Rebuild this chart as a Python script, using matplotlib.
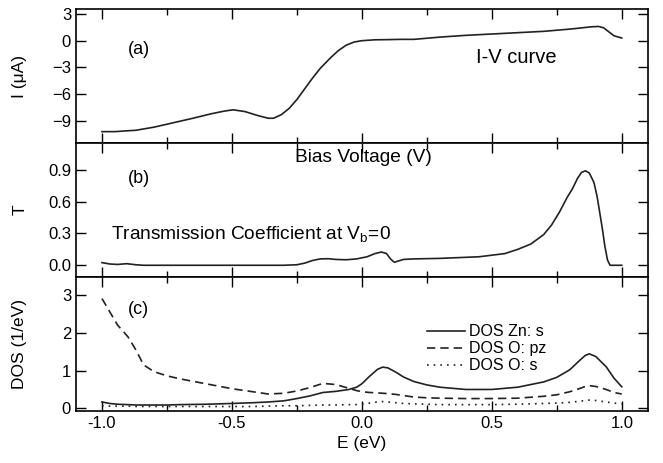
import numpy as np
import matplotlib.pyplot as plt
from matplotlib.ticker import MultipleLocator

plt.rcParams['font.family'] = ['Liberation Sans', 'DejaVu Sans']
plt.rcParams['font.size'] = 12
plt.rcParams['mathtext.fontset'] = 'custom'
plt.rcParams['mathtext.rm'] = 'Liberation Sans'

# (a) I-V curve
E_iv = [-1.0, -0.95, -0.9, -0.87, -0.8, -0.74, -0.65, -0.58, -0.53, -0.495, -0.45, -0.4, -0.36, -0.34,
        -0.31, -0.28, -0.25, -0.22, -0.19, -0.16, -0.12, -0.09, -0.06, -0.03, 0.0, 0.05, 0.1, 0.15,
        0.2, 0.3, 0.4, 0.5, 0.6, 0.7, 0.8, 0.85, 0.88, 0.91, 0.93, 0.95, 0.97, 1.0]
I_iv = [-10.2, -10.2, -10.1, -10.05, -9.7, -9.3, -8.7, -8.2, -7.9, -7.75, -7.95, -8.4, -8.7, -8.7,
        -8.3, -7.6, -6.6, -5.4, -4.2, -3.1, -1.9, -1.1, -0.5, -0.15, 0.0, 0.1, 0.12, 0.15,
        0.15, 0.4, 0.6, 0.75, 0.9, 1.05, 1.3, 1.45, 1.55, 1.6, 1.45, 1.0, 0.55, 0.3]

# (b) transmission at Vb = 0
E_t = [-1.0, -0.97, -0.94, -0.905, -0.87, -0.84, -0.8, -0.6, -0.4, -0.3, -0.25, -0.22, -0.19,
       -0.16, -0.13, -0.1, -0.06, -0.02, 0.02, 0.05, 0.075, 0.095, 0.11, 0.125, 0.14, 0.16, 0.2,
       0.3, 0.4, 0.45, 0.5, 0.55, 0.6, 0.65, 0.7, 0.73, 0.76, 0.79, 0.81, 0.83, 0.845, 0.86,
       0.875, 0.893, 0.905, 0.915, 0.925, 0.935, 0.945, 0.955, 1.0]
T_t = [0.025, 0.012, 0.008, 0.015, 0.005, 0.0, 0.0, 0.0, 0.0, 0.0, 0.005, 0.02, 0.045,
       0.06, 0.062, 0.055, 0.052, 0.06, 0.08, 0.11, 0.125, 0.11, 0.06, 0.028, 0.04, 0.055, 0.06,
       0.065, 0.075, 0.08, 0.095, 0.11, 0.15, 0.2, 0.29, 0.38, 0.5, 0.64, 0.72, 0.82, 0.875, 0.89,
       0.87, 0.78, 0.65, 0.5, 0.35, 0.18, 0.05, 0.0, 0.0]

# (c) density of states
E_dos = [-1.0, -0.97, -0.94, -0.9, -0.87, -0.84, -0.8, -0.75, -0.7, -0.6, -0.5, -0.42, -0.36,
         -0.3, -0.25, -0.2, -0.15, -0.1, -0.05, -0.02, 0.0, 0.03, 0.06, 0.08, 0.1, 0.13, 0.16,
         0.2, 0.25, 0.3, 0.4, 0.5, 0.6, 0.7, 0.75, 0.8, 0.84, 0.86, 0.875, 0.9, 0.94, 0.97, 1.0]
dos_zn_s = [0.17, 0.13, 0.11, 0.1, 0.09, 0.09, 0.09, 0.09, 0.1, 0.11, 0.13, 0.15, 0.17,
            0.2, 0.26, 0.33, 0.42, 0.45, 0.5, 0.56, 0.65, 0.85, 1.03, 1.09, 1.07, 0.96, 0.83,
            0.71, 0.62, 0.56, 0.5, 0.5, 0.56, 0.7, 0.82, 1.02, 1.28, 1.4, 1.44, 1.37, 1.1, 0.8, 0.57]
dos_o_pz = [2.9, 2.55, 2.2, 1.89, 1.55, 1.15, 0.97, 0.86, 0.78, 0.65, 0.52, 0.44, 0.38,
            0.4, 0.46, 0.55, 0.66, 0.63, 0.53, 0.47, 0.44, 0.42, 0.41, 0.4, 0.39, 0.37, 0.34,
            0.3, 0.28, 0.27, 0.26, 0.26, 0.27, 0.32, 0.36, 0.44, 0.53, 0.58, 0.6, 0.58, 0.5, 0.42, 0.38]
dos_o_s = [0.07, 0.06, 0.06, 0.06, 0.05, 0.05, 0.05, 0.05, 0.05, 0.05, 0.05, 0.05, 0.06,
           0.07, 0.07, 0.08, 0.09, 0.09, 0.1, 0.1, 0.11, 0.14, 0.17, 0.18, 0.17, 0.15, 0.13,
           0.12, 0.11, 0.1, 0.1, 0.1, 0.11, 0.13, 0.14, 0.16, 0.19, 0.21, 0.22, 0.21, 0.17, 0.14, 0.12]

fig, axes = plt.subplots(3, 1, figsize=(6.63, 4.63), dpi=100, sharex=True)
fig.subplots_adjust(left=0.1146, right=0.977, top=0.9795, bottom=0.113, hspace=0)
ax1, ax2, ax3 = axes

lw = 1.2
ax1.plot(E_iv, I_iv, color='#222222', lw=lw)
ax1.set_ylim(-11.5, 3.5)
ax1.set_yticks([3, 0, -3, -6, -9])
ax1.set_ylabel('I (\u03bcA)', fontsize=12.5)
ax1.text(-0.9, -1.0, '(a)', ha='left', va='center', fontsize=13)
ax1.text(0.44, -1.9, 'I-V curve', ha='left', va='center', fontsize=14.5)

ax2.plot(E_t, T_t, color='#222222', lw=lw)
ax2.set_ylim(-0.11, 1.15)
ax2.set_yticks([0.0, 0.3, 0.6, 0.9])
ax2.set_yticklabels(['0.0', '0.3', '0.6', '0.9'])
ax2.set_ylabel('T', fontsize=12.5)
ax2.text(0.005, 1.02, 'Bias Voltage (V)', ha='center', va='center', fontsize=13.75)
ax2.text(-0.9, 0.815, '(b)', ha='left', va='center', fontsize=13)
ax2.text(-0.965, 0.29, 'Transmission Coefficient at V$_\\mathregular{b}$=0',
         ha='left', va='center', fontsize=13.75)

ax3.plot(E_dos, dos_zn_s, color='#222222', lw=lw, ls='-', label='DOS Zn: s')
ax3.plot(E_dos, dos_o_pz, color='#222222', lw=lw, ls=(0, (5, 3)), label='DOS O: pz')
ax3.plot(E_dos, dos_o_s, color='#222222', lw=lw, ls=(0, (1, 3)), label='DOS O: s')
ax3.set_ylim(-0.06, 3.47)
ax3.set_yticks([0, 1, 2, 3])
ax3.set_ylabel('DOS (1/eV)', fontsize=12.5)
ax3.set_xlabel('E (eV)', fontsize=12.5)
ax3.text(-0.9, 2.62, '(c)', ha='left', va='center', fontsize=13)
ax3.legend(loc='upper left', bbox_to_anchor=(0.614, 0.645), frameon=False, fontsize=11.5,
           borderpad=0, borderaxespad=0, handlelength=2.4, handletextpad=0.2, labelspacing=0.12)

ax3.set_xlim(-1.1, 1.1)
ax3.set_xticks([-1.0, -0.5, 0.0, 0.5, 1.0])
ax3.set_xticklabels(['-1.0', '-0.5', '0.0', '0.5', '1.0'])
for ax in axes:
    ax.xaxis.set_minor_locator(MultipleLocator(0.25))
    ax.tick_params(which='both', direction='in', top=True, right=True, width=1)
    ax.tick_params(which='major', length=7)
    ax.tick_params(which='minor', length=4)
    for s in ax.spines.values():
        s.set_linewidth(1.2)
    ax.yaxis.set_label_coords(-0.085, 0.5)

fig.savefig('out.png', dpi=100)
